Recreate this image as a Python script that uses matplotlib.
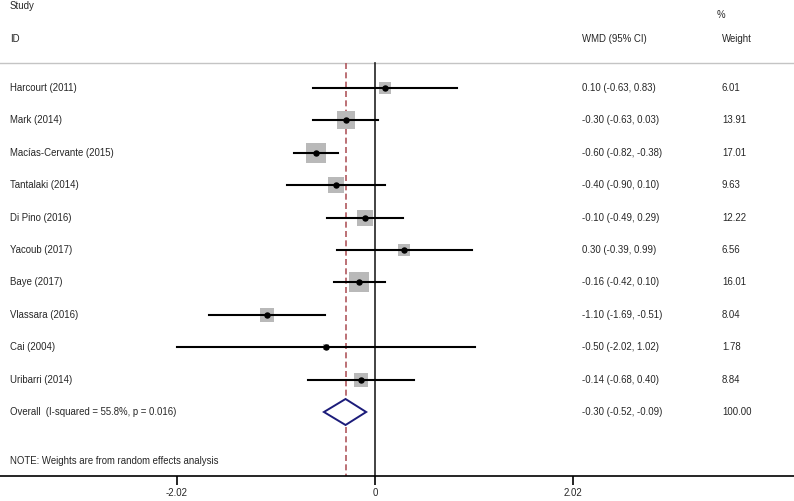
import matplotlib.pyplot as plt
from matplotlib.patches import Polygon

# study data
studies = ["Harcourt (2011)", "Mark (2014)", "Macías-Cervante (2015)", "Tantalaki (2014)",
           "Di Pino (2016)", "Yacoub (2017)", "Baye (2017)", "Vlassara (2016)",
           "Cai (2004)", "Uribarri (2014)"]
wmd = [0.10, -0.30, -0.60, -0.40, -0.10, 0.30, -0.16, -1.10, -0.50, -0.14]
ci_low = [-0.63, -0.63, -0.82, -0.90, -0.49, -0.39, -0.42, -1.69, -2.02, -0.68]
ci_high = [0.83, 0.03, -0.38, 0.10, 0.29, 0.99, 0.10, -0.51, 1.02, 0.40]
weights = [6.01, 13.91, 17.01, 9.63, 12.22, 6.56, 16.01, 8.04, 1.78, 8.84]

overall_label = "Overall  (I-squared = 55.8%, p = 0.016)"
overall = -0.30
overall_low = -0.52
overall_high = -0.09
overall_weight = 100.00

xticks = [-2.02, 0, 2.02]
note = "NOTE: Weights are from random effects analysis"

plt.rcParams['font.family'] = ['Liberation Sans', 'DejaVu Sans']
FS = 6.9
TXT = '#262626'

fig = plt.figure(figsize=(7.94, 5.01), dpi=100)
ax = fig.add_axes([0, 25 / 501, 1, 476 / 501])

# y axis in pixel rows from the top of the figure
ax.set_ylim(476, 0)
zero_px, scale = 375, 98.2
ax.set_xlim(-zero_px / scale, (794 - zero_px) / scale)

row0, step = 88, 32.4
rows = [row0 + i * step for i in range(len(studies))]
overall_row = row0 + len(studies) * step
header_line = 63

tr = ax.get_yaxis_transform()  # x in axes fraction, y in data
col_study, col_wmd, col_w = 10 / 794, 582 / 794, 722 / 794

def txt(x, y, s):
    ax.text(x, y, s, transform=tr, fontsize=FS, color=TXT, va='center')

txt(col_study, 6, "Study")
txt(col_study, 39, "ID")
txt(717 / 794, 15, "%")
txt(col_wmd, 39, "WMD (95% CI)")
txt(col_w, 39, "Weight")

ax.axhline(header_line, color='#c4c4c4', lw=1.0)

# reference lines
ax.plot([0, 0], [header_line, 476], color='#222222', lw=1.2, zorder=2)
ax.plot([overall, overall], [header_line, 476], color='#b0585e', lw=1.2,
        dashes=(3.6, 2), zorder=2)

for y, name, e, lo, hi, w in zip(rows, studies, wmd, ci_low, ci_high, weights):
    ax.scatter([e], [y], marker='s', s=12.2 * w, color='#b9b9b9', lw=0, zorder=3)
    ax.plot([lo, hi], [y, y], color='black', lw=1.5, zorder=4)
    ax.plot([e], [y], marker='o', ms=3.6, color='black', zorder=5)
    txt(col_study, y, name)
    txt(col_wmd, y, f"{e:.2f} ({lo:.2f}, {hi:.2f})")
    txt(col_w, y, f"{w:.2f}")

dia = Polygon([[overall_low, overall_row], [overall, overall_row - 13],
               [overall_high, overall_row], [overall, overall_row + 13]],
              closed=True, fill=True, facecolor='white', edgecolor='#1c1c7a',
              lw=1.4, zorder=4)
ax.add_patch(dia)
txt(col_study, overall_row, overall_label)
txt(col_wmd, overall_row, f"{overall:.2f} ({overall_low:.2f}, {overall_high:.2f})")
txt(col_w, overall_row, f"{overall_weight:.2f}")

txt(col_study, 461, note)

for s in ['top', 'left', 'right']:
    ax.spines[s].set_visible(False)
ax.spines['bottom'].set_linewidth(1.2)
ax.set_yticks([])
ax.set_xticks(xticks)
ax.set_xticklabels([f"{t:g}" for t in xticks])
ax.tick_params(axis='x', direction='out', length=6.5, width=1.2, labelsize=FS,
               labelcolor=TXT, pad=2.5)

fig.savefig("out.png", dpi=100)
